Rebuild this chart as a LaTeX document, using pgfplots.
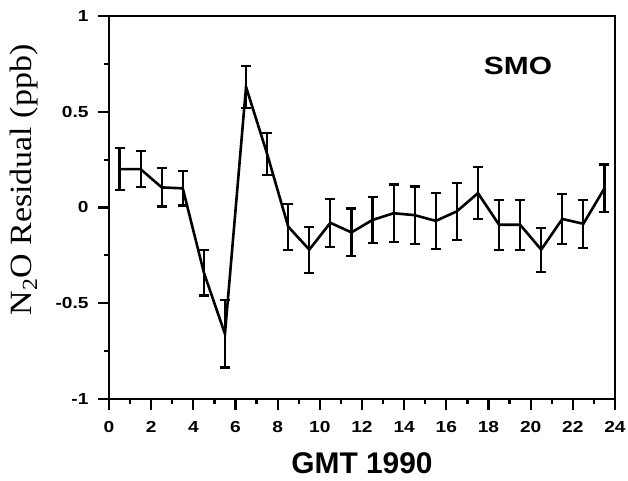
\documentclass[border=0pt]{standalone}
\usepackage{fontspec}
\setmainfont{Liberation Serif}
\setsansfont{Liberation Sans}
\newfontfamily\tickfont[FakeStretch=1.2]{Liberation Sans}
\newfontfamily\labfont[FakeStretch=1.1]{Liberation Serif}
\usepackage{pgfplots}
\pgfplotsset{compat=1.18}
\pgfplotstableread{
x y e
0.5 0.20 0.11
1.5 0.20 0.095
2.5 0.105 0.10
3.5 0.10 0.09
4.5 -0.34 0.12
5.5 -0.66 0.175
6.5 0.63 0.11
7.5 0.28 0.11
8.5 -0.10 0.12
9.5 -0.22 0.12
10.5 -0.08 0.125
11.5 -0.13 0.125
12.5 -0.065 0.12
13.5 -0.03 0.15
14.5 -0.04 0.15
15.5 -0.07 0.145
16.5 -0.02 0.15
17.5 0.075 0.135
18.5 -0.09 0.13
19.5 -0.09 0.13
20.5 -0.22 0.115
21.5 -0.06 0.13
22.5 -0.085 0.125
23.5 0.10 0.125
}\smo
\begin{document}
\begin{tikzpicture}
\begin{axis}[
  name=ax,
  scale only axis,
  width=506bp, height=383bp,
  xmin=0, xmax=24, ymin=-1, ymax=1,
  xtick={0,2,...,24},
  xticklabels={0,2,4,6,8,10,12,14,16,18,20,22,24},
  minor xtick={1,3,...,23},
  ytick={-1,-0.5,0,0.5,1},
  yticklabels={-1,-0.5,0,0.5,1},
  minor ytick={-0.75,-0.25,0.25,0.75},
  tick align=outside,
  tick pos=left,
  major tick length=11bp, minor tick length=5bp,
  every tick/.style={line width=2.2bp, black},
  axis line style={line width=2.5bp},
  ticklabel style={font=\tickfont\bfseries\fontsize{16}{16}\selectfont},
  xticklabel style={yshift=-8bp},
  yticklabel style={xshift=-6bp},
  xlabel={GMT 1990},
  xlabel style={font=\sffamily\bfseries\fontsize{30}{32}\selectfont,
    at={(axis description cs:0.5,-0.168)}, anchor=center},
  ylabel={N\textsubscript{2}O Residual (ppb)},
  ylabel style={font=\labfont\fontsize{31}{34}\selectfont,
    at={(axis description cs:-0.168,0.572)}, anchor=center},
]
\addplot[black, line width=2.6bp, mark=none,
  error bars/.cd, y dir=both, y explicit,
  error bar style={line width=2.2bp, black},
  error mark options={rotate=90, mark size=5bp, line width=2.2bp, black}]
  table[x=x, y=y, y error=e] {\smo};
\node[font=\tickfont\bfseries\fontsize{25}{25}\selectfont] at (axis cs:19.4,0.74) {SMO};
\end{axis}
\pgfresetboundingbox
\path[use as bounding box] ([xshift=-109bp,yshift=-82bp]ax.south west) rectangle ([xshift=13bp,yshift=16bp]ax.north east);
\end{tikzpicture}
\end{document}
